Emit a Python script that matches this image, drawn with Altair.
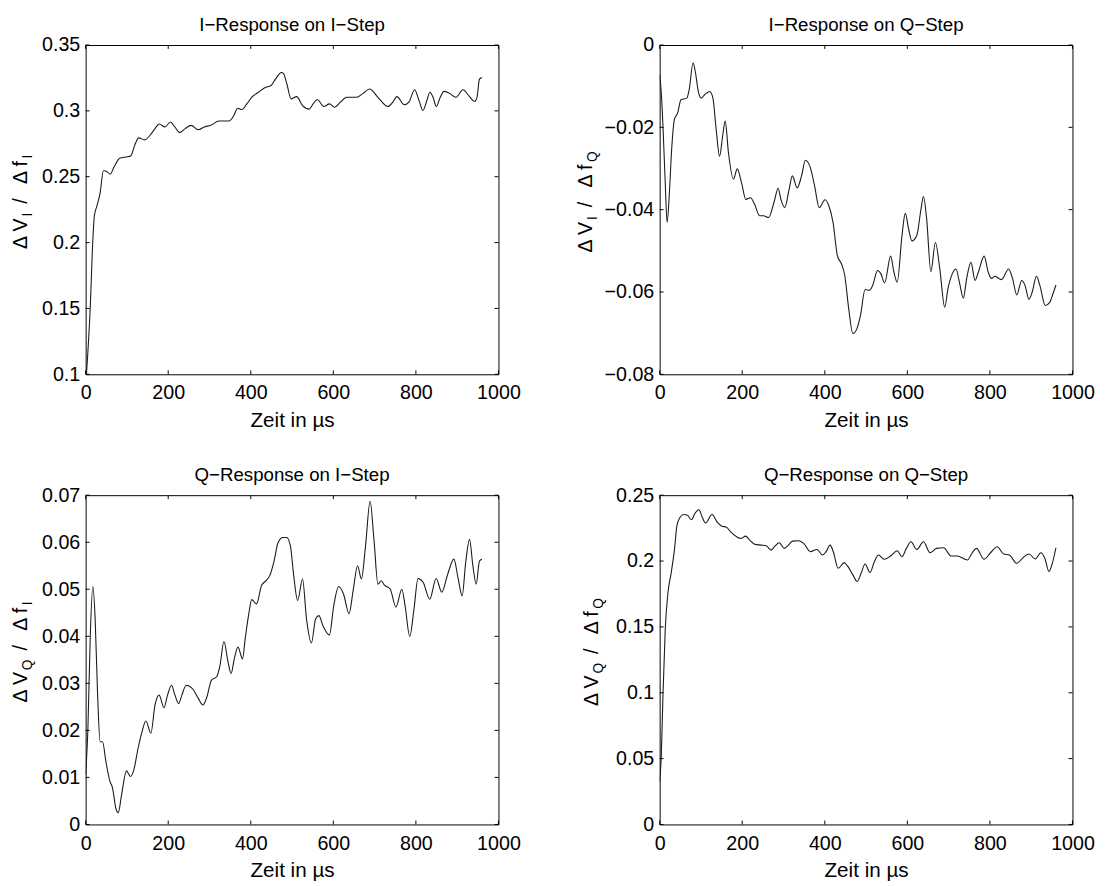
import altair as alt
import pandas as pd

FONT = "Liberation Sans"
X_TICKS = [0, 200, 400, 600, 800, 1000]

# Panel 1: I-Response on I-Step
t1 = [2, 11, 17.5, 21, 27, 35, 43, 49, 59.5, 69, 82.5, 97, 109, 119, 128.5, 143, 156, 168, 178, 192,
      205.5, 216, 228, 241, 255.5, 273, 287, 303, 323, 347, 359, 368, 378.5, 390.5, 402, 418, 436.5,
      448.5, 460, 474, 479, 487.5, 497.5, 511, 525.5, 541, 551, 561, 577, 590.5, 603, 617, 632.5,
      656.5, 672, 688, 708, 732, 744, 754, 772, 783, 797, 807.5, 817, 826, 834, 841.5, 849.5, 859,
      868, 881, 897, 914, 930, 942, 948, 954, 960]
v1 = [0.1, 0.1497, 0.2025, 0.22, 0.2275, 0.2375, 0.2546, 0.2544, 0.252, 0.2576, 0.264, 0.265, 0.2657,
      0.274, 0.2795, 0.278, 0.2815, 0.2865, 0.29, 0.2878, 0.2915, 0.2878, 0.2835, 0.2865, 0.289,
      0.2857, 0.2878, 0.289, 0.2923, 0.2923, 0.2965, 0.302, 0.301, 0.3053, 0.3103, 0.314, 0.3179,
      0.3191, 0.3241, 0.3292, 0.3284, 0.3204, 0.3091, 0.3108, 0.304, 0.3013, 0.3053, 0.3086, 0.3033,
      0.3053, 0.3028, 0.3066, 0.3103, 0.3103, 0.3133, 0.3166, 0.3103, 0.3033, 0.3066, 0.3108, 0.3046,
      0.3066, 0.3161, 0.3078, 0.3003, 0.3073, 0.3141, 0.3103, 0.3033, 0.3103, 0.3148, 0.3133, 0.3103,
      0.3161, 0.3108, 0.3071, 0.3103, 0.3241, 0.3254]

# Panel 2: I-Response on Q-Step
t2 = [0, 4, 8, 13.5, 18, 24, 29, 35.7, 43.7, 51.6, 66, 71.4, 81, 87, 93.7, 100.8, 108.7, 121.4, 129,
      137, 145, 153, 158.7, 166.7, 178.6, 188, 198.4, 208.7, 220, 230, 242, 251.6, 264, 277.8, 287,
      293.7, 303, 313.5, 321.4, 333, 343.7, 353, 365, 375.4, 386.5, 400.8, 410, 420, 430.6, 440.5,
      448.4, 458, 468, 477.8, 486.5, 497.6, 508, 516, 528, 536, 545, 559.5, 567.5, 575.4, 587, 595,
      603, 611, 623, 633, 639, 646.8, 657, 668, 678.6, 690.5, 698.4, 708.7, 718, 726, 735.7, 743.6,
      754, 764, 772, 786, 796, 804, 812, 828, 845.4, 855, 865, 877, 885, 894.5, 902.5, 912.7, 921,
      934, 944.5, 952.5, 960]
v2 = [-0.0073, -0.0117, -0.0197, -0.0335, -0.0431, -0.0351, -0.0254, -0.0181, -0.0165, -0.0133,
      -0.0129, -0.0109, -0.0043, -0.0069, -0.0113, -0.0129, -0.0121, -0.0113, -0.0129, -0.0206,
      -0.027, -0.0218, -0.0185, -0.0262, -0.0326, -0.0301, -0.0335, -0.0375, -0.0371, -0.0387,
      -0.0415, -0.0415, -0.0419, -0.0379, -0.0348, -0.0375, -0.0395, -0.0351, -0.0318, -0.0347,
      -0.0318, -0.028, -0.0298, -0.0343, -0.0395, -0.0376, -0.0391, -0.0431, -0.0512, -0.0532,
      -0.056, -0.0641, -0.0701, -0.0689, -0.0657, -0.0594, -0.0596, -0.0584, -0.0548, -0.0556,
      -0.0578, -0.0513, -0.0552, -0.0576, -0.0463, -0.0409, -0.0447, -0.0476, -0.0462, -0.0399,
      -0.0368, -0.0423, -0.0551, -0.048, -0.0544, -0.0637, -0.0592, -0.0556, -0.0544, -0.0576,
      -0.0615, -0.0568, -0.0528, -0.0572, -0.0552, -0.0513, -0.0552, -0.0567, -0.0562, -0.057,
      -0.0544, -0.0568, -0.0607, -0.0572, -0.0584, -0.0618, -0.06, -0.0562, -0.0584, -0.0633,
      -0.0626, -0.0605, -0.0583]

# Panel 3: Q-Response on I-Step
t3 = [0, 5.5, 11, 17.5, 23, 29, 35, 41, 49, 58.7, 65, 73, 79, 87, 99, 108.7, 116.7, 127, 136.5, 146,
      158, 168, 178, 189.7, 198.4, 208, 216, 225.4, 233, 243.7, 259.5, 273, 284, 293.7, 304.8, 317.5,
      325.4, 335, 345, 352.4, 360, 369, 380, 386.5, 394.5, 402.4, 414, 426, 436.5, 446, 456.4, 466,
      478, 487, 496, 504, 513.5, 525.4, 535, 547, 557, 565, 574.6, 590.5, 601, 612.7, 624.6, 638,
      648.4, 658.7, 668, 678, 689, 698.4, 708, 716, 723.8, 738, 751.6, 766, 773.8, 785, 795.4, 805,
      817.5, 833.5, 849, 862.7, 877, 892, 902.5, 912, 920.6, 930, 938, 946, 954, 960]
v3 = [0.0106, 0.0204, 0.0395, 0.0506, 0.0437, 0.0275, 0.0176, 0.0176, 0.0134, 0.0092, 0.0078, 0.0035,
      0.0025, 0.0063, 0.0114, 0.0102, 0.0116, 0.0162, 0.0197, 0.022, 0.0194, 0.0254, 0.0275, 0.0248,
      0.0275, 0.0296, 0.0276, 0.0257, 0.0275, 0.0296, 0.0288, 0.0268, 0.0254, 0.0271, 0.0307, 0.0314,
      0.0338, 0.0389, 0.0345, 0.0321, 0.0352, 0.0377, 0.0352, 0.0395, 0.0444, 0.0478, 0.0469, 0.0508,
      0.0518, 0.0529, 0.056, 0.0599, 0.061, 0.061, 0.0592, 0.0529, 0.0476, 0.0522, 0.0437, 0.0386,
      0.0437, 0.0444, 0.0423, 0.0403, 0.0465, 0.0506, 0.049, 0.0448, 0.05, 0.055, 0.0522, 0.0592,
      0.0687, 0.0606, 0.0511, 0.0518, 0.0509, 0.05, 0.0462, 0.05, 0.0465, 0.04, 0.0458, 0.0523,
      0.0515, 0.0479, 0.0523, 0.0494, 0.0532, 0.0564, 0.0522, 0.0486, 0.0557, 0.0606, 0.055, 0.0511,
      0.056, 0.0564]

# Panel 4: Q-Response on Q-Step
t4 = [0, 4, 8, 13.5, 20, 27.8, 35.7, 42, 50, 58, 67.5, 77, 85, 95, 103, 111, 127, 139, 151, 161, 172,
      186.5, 197, 208, 218, 230, 246, 258, 270, 279, 289.7, 301.6, 312, 321.4, 337, 349, 365, 381,
      394.5, 403, 413, 420.6, 432.5, 447, 455, 468, 478.6, 488, 497.6, 509.5, 520, 530, 543.7, 559.5,
      575.4, 587, 597.6, 608.7, 623, 639, 654.8, 670.7, 688, 706, 720.7, 746, 754, 767.5, 785.8,
      801.6, 817.5, 833.5, 847, 865, 881, 894.5, 910, 923.5, 933, 943, 950, 960]
v4 = [0.0326, 0.0527, 0.0979, 0.148, 0.1757, 0.1908, 0.2083, 0.2272, 0.2334, 0.2354, 0.2347, 0.2314,
      0.2359, 0.2389, 0.2334, 0.2289, 0.2354, 0.2297, 0.2264, 0.2259, 0.2221, 0.2184, 0.2171, 0.2189,
      0.2159, 0.2128, 0.2121, 0.2116, 0.2083, 0.2113, 0.2139, 0.2096, 0.2121, 0.2151, 0.2154, 0.2134,
      0.2071, 0.2088, 0.2046, 0.2071, 0.2121, 0.2071, 0.1945, 0.1988, 0.1963, 0.1895, 0.1845, 0.1908,
      0.1978, 0.1913, 0.1995, 0.2046, 0.2013, 0.2038, 0.2078, 0.2033, 0.2096, 0.2146, 0.2088, 0.2146,
      0.2063, 0.2096, 0.2101, 0.2038, 0.2038, 0.2008, 0.2046, 0.2096, 0.2013, 0.2063, 0.2108, 0.2053,
      0.2046, 0.1983, 0.2028, 0.2053, 0.2016, 0.2063, 0.2021, 0.192, 0.197, 0.2101]

titles = ["I\u2212Response on I\u2212Step", "I\u2212Response on Q\u2212Step",
          "Q\u2212Response on I\u2212Step", "Q\u2212Response on Q\u2212Step"]
y_ticks = [[0.1, 0.15, 0.2, 0.25, 0.3, 0.35],
           [-0.08, -0.06, -0.04, -0.02, 0],
           [0, 0.01, 0.02, 0.03, 0.04, 0.05, 0.06, 0.07],
           [0, 0.05, 0.1, 0.15, 0.2, 0.25]]
y_domains = [[0.1, 0.35], [-0.08, 0], [0, 0.07], [0, 0.25]]
subs = [("I", "I"), ("I", "Q"), ("Q", "I"), ("Q", "Q")]
x_title = "Zeit in \u00b5s"

W, H = 420, 335
LINE = "#1a1a1a"
SUBW = {"I": 4, "Q": 11}


def ylabel_layers(sub1, sub2, bx):
    # pieces of "Δ V_s1 / Δ f_s2", rotated, reading bottom to top
    total = 33 + SUBW[sub1] + 9 + 5 + 15 + 26 + SUBW[sub2]
    y0 = H / 2 + total / 2 - 8
    parts = []
    y = y0
    parts.append(("\u0394 V", 20, bx, y)); y -= 33
    parts.append((sub1, 14, bx + 5, y)); y -= SUBW[sub1] + 9
    parts.append(("/", 20, bx, y)); y -= 5 + 15
    parts.append(("\u0394 f", 20, bx, y)); y -= 26
    parts.append((sub2, 14, bx + 5, y))
    layers = []
    for txt, fs, px, py in parts:
        layers.append(
            alt.Chart(pd.DataFrame({"s": [txt]}))
            .mark_text(angle=270, align="left", baseline="alphabetic", fontSize=fs,
                       font=FONT, color="black")
            .encode(x=alt.value(px), y=alt.value(py), text="s:N")
        )
    return layers


def panel(t, v, ydom, yticks, title, sub, bx):
    xs = alt.Scale(domain=[0, 1000], nice=False, zero=False)
    ys = alt.Scale(domain=ydom, nice=False, zero=False)
    xaxis = alt.Axis(values=X_TICKS, title=x_title, format="~r", ticks=False,
                     domain=False, grid=False, labelPadding=9, titlePadding=7,
                     labelFlush=False, labelOverlap=False,
                     labelFontSize=20, titleFontSize=21, titleFontWeight="normal",
                     labelFont=FONT, titleFont=FONT, labelColor="black", titleColor="black")
    yaxis = alt.Axis(values=yticks, title=None, format="~r", ticks=False,
                     domain=False, grid=False, labelPadding=6,
                     labelFlush=False, labelOverlap=False,
                     labelFontSize=20, labelFont=FONT, labelColor="black")
    xenc = alt.X("t:Q", scale=xs, axis=xaxis)
    yenc = alt.Y("v:Q", scale=ys, axis=yaxis)
    df = pd.DataFrame({"t": t, "v": v})
    line = alt.Chart(df).mark_line(color=LINE, strokeWidth=1.1, clip=True,
                                   interpolate="monotone").encode(x=xenc, y=yenc)
    xt = pd.DataFrame({"t": X_TICKS})
    yt = pd.DataFrame({"v": yticks})
    bot = alt.Chart(xt).mark_rule(color="black").encode(x=xenc, y=alt.value(H), y2=alt.value(H - 4))
    top = alt.Chart(xt).mark_rule(color="black").encode(x=xenc, y=alt.value(0), y2=alt.value(4))
    lef = alt.Chart(yt).mark_rule(color="black").encode(y=yenc, x=alt.value(0), x2=alt.value(4))
    rig = alt.Chart(yt).mark_rule(color="black").encode(y=yenc, x=alt.value(W), x2=alt.value(W - 4))
    layers = [line, bot, top, lef, rig] + ylabel_layers(sub[0], sub[1], bx)
    return alt.layer(*layers).properties(
        width=W, height=H,
        title=alt.TitleParams(title, fontSize=19, font=FONT, fontWeight="normal",
                              color="black", offset=0, frame="group"),
    )


series = [(t1, v1), (t2, v2), (t3, v3), (t4, v4)]
bxs = [-60, -69, -60, -63]
panels = [panel(series[i][0], series[i][1], y_domains[i], y_ticks[i], titles[i], subs[i], bxs[i])
          for i in range(4)]

chart = alt.concat(*panels, columns=2, spacing={"row": 35, "column": 55}).properties(
    padding={"left": 2, "top": 0, "right": 5, "bottom": 0}, background="white"
).configure_view(stroke="black", strokeWidth=1)

chart.save("out.html", embed_options={"renderer": "svg", "actions": False})
